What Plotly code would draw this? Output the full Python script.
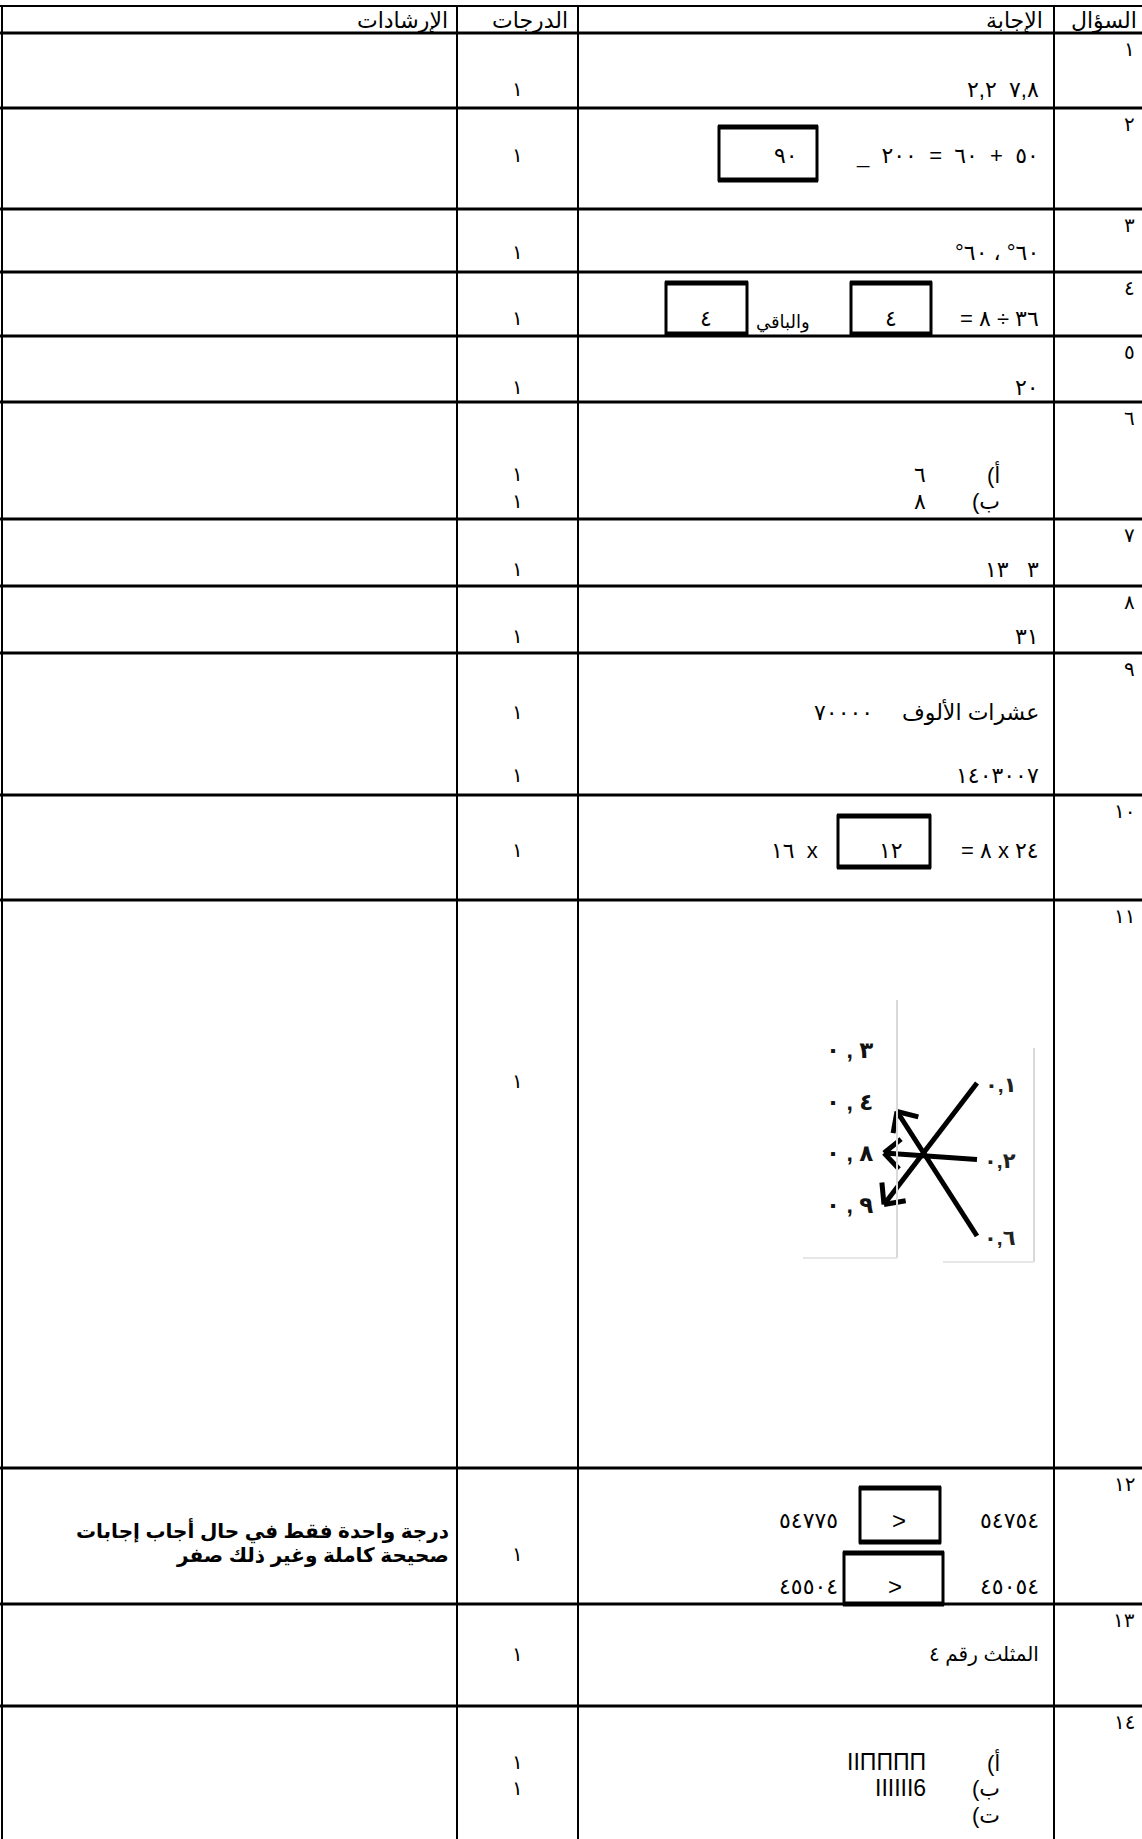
import math
import plotly.graph_objects as go

W, H = 1142, 1839
FONT = "Liberation Sans, DejaVu Sans, sans-serif"
LRM = "\u200e"

# ---------------- table content ----------------
headers = ["السؤال", "الإجابة", "الدرجات", "الإرشادات"]
question_numbers = ["١", "٢", "٣", "٤", "٥", "٦", "٧", "٨", "٩", "١٠", "١١", "١٢", "١٣", "١٤"]
grades = [["١"], ["١"], ["١"], ["١"], ["١"], ["١", "١"], ["١"], ["١"], ["١", "١"], ["١"], ["١"], ["١"], ["١"], ["١", "١"]]

q1_values = ["٢,٢", "٧,٨"]
q2_terms = ["_", "٢٠٠", "=", "٦٠", "+", "٥٠"]
q2_box = "٩٠"
q3_values = ["°٦٠", "،", "°٦٠"]
q4_terms = ["=", "٨", "÷", "٣٦"]
q4_quotient = "٤"
q4_remainder = "٤"
q4_word = "والباقي"
q5_value = "٢٠"
q6_labels = ["(أ", "(ب"]
q6_values = ["٦", "٨"]
q7_values = ["١٣", "٣"]
q8_value = "٣١"
q9_words = ["عشرات الألوف", "٧٠٠٠٠"]
q9_number = "١٤٠٣٠٠٧"
q10_left = ["١٦", "x"]
q10_box = "١٢"
q10_right = ["=", "٨", "x", "٢٤"]
q11_left = [["٠", ",", "٣"], ["٠", ",", "٤"], ["٠", ",", "٨"], ["٠", ",", "٩"]]
q11_right = ["٠,١", "٠,٢", "٠,٦"]
q11_match = [3, 2, 1]          # right item i -> left item index
q12_left = ["٥٤٧٧٥", "٤٥٥٠٤"]
q12_sign = [">", ">"]
q12_right = ["٥٤٧٥٤", "٤٥٠٥٤"]
q12_note = ["درجة واحدة فقط في حال أجاب إجابات", "صحيحة كاملة وغير ذلك صفر"]
q13_value = "المثلث رقم ٤"
q14_labels = ["(أ", "(ب", "(ت"]
q14_values = ["IIΠΠΠΠ", "IIIIII6", ""]

# ---------------- layout constants (pixels) ----------------
row_edges = [6, 33, 108, 209, 272, 336, 402, 519, 586, 653, 795, 900, 1468, 1604, 1706]
col_edges = [2, 457, 578, 1054]
GRADE_X = 517
ANS_X = 1041
QNUM_X = 1137
FS = 22

fig = go.Figure()
shapes, annotations = [], []


def hline(y, w=3):
    shapes.append(dict(type="line", xref="x", yref="y", x0=0, x1=W, y0=y, y1=y,
                       line=dict(color="black", width=w)))


def vline(x, w=2):
    shapes.append(dict(type="line", xref="x", yref="y", x0=x, x1=x, y0=row_edges[0], y1=H + 5,
                       line=dict(color="black", width=w)))


def box(x0, x1, y0, y1):
    shapes.append(dict(type="rect", xref="x", yref="y", x0=x0, x1=x1, y0=y0, y1=y1,
                       line=dict(color="black", width=3)))
    for yy in (y0, y1):
        shapes.append(dict(type="line", xref="x", yref="y", x0=x0 - 1, x1=x1 + 1, y0=yy, y1=yy,
                           line=dict(color="black", width=5)))


def text(x, y, s, anchor="right", size=FS, color="black", bold=False):
    if bold:
        s = "<b>" + s + "</b>"
    annotations.append(dict(x=x, y=y, xref="x", yref="y", text=s, showarrow=False,
                            xanchor=anchor, yanchor="middle",
                            font=dict(size=size, color=color, family=FONT)))


def ltr(tokens, gap=" "):
    return LRM + (LRM + gap + LRM).join(tokens) + LRM


# grid
hline(row_edges[0], 2)
for y in row_edges[1:]:
    hline(y, 3)
for x in col_edges:
    vline(x, 2)

# header
text(1139, 20, headers[0])
text(1045, 20, headers[1])
text(570, 20, headers[2])
text(450, 20, headers[3])

# question numbers
for i, q in enumerate(question_numbers):
    text(QNUM_X, row_edges[i + 1] + 16, q, size=20)

# grade rows (y positions for each grade)
grade_y = [[89], [155], [252], [318], [387], [474, 501], [569], [636], [712, 775], [850],
           [1081], [1554], [1654], [1762, 1788]]
for g, ys in zip(grades, grade_y):
    for v, y in zip(g, ys):
        text(GRADE_X, y, v, anchor="center", size=20)

# Q1
text(ANS_X, 89, ltr(q1_values, "  "))
# Q2
text(ANS_X, 155, ltr(q2_terms, "  "))
box(719, 817, 127, 180)
text(800, 155, q2_box)
# Q3
text(ANS_X, 252, ltr(q3_values, " "))
# Q4
text(ANS_X, 318, ltr(q4_terms, " "))
box(851, 931, 283, 334)
text(891, 318, q4_quotient, anchor="center")
text(812, 322, q4_word, size=18)
box(666, 747, 283, 334)
text(706, 318, q4_remainder, anchor="center")
# Q5
text(ANS_X, 387, q5_value)
# Q6
for lab, val, y in zip(q6_labels, q6_values, grade_y[5]):
    text(1002, y, lab)
    text(928, y, val)
# Q7
text(ANS_X, 569, ltr(q7_values, "   "))
# Q8
text(ANS_X, 636, q8_value)
# Q9
text(ANS_X, 712, q9_words[0])
text(875, 712, q9_words[1])
text(ANS_X, 775, q9_number)
# Q10
text(ANS_X, 850, ltr(q10_right, " "))
box(838, 930, 816, 867)
text(905, 850, q10_box)
text(820, 850, ltr(q10_left, "  "))

# Q11 picture
LX, LY0, LDY = 849, 1050, 51.5
RX, RY0, RDY = 1000, 1084, 76.5
shapes.append(dict(type="line", xref="x", yref="y", x0=897, x1=897, y0=1000, y1=1258,
                   line=dict(color="#d9d9d9", width=2)))
shapes.append(dict(type="line", xref="x", yref="y", x0=803, x1=897, y0=1258, y1=1258,
                   line=dict(color="#e6e6e6", width=2)))
shapes.append(dict(type="line", xref="x", yref="y", x0=1034, x1=1034, y0=1048, y1=1262,
                   line=dict(color="#d9d9d9", width=2)))
shapes.append(dict(type="line", xref="x", yref="y", x0=943, x1=1034, y0=1262, y1=1262,
                   line=dict(color="#e6e6e6", width=2)))
for j, toks in enumerate(q11_left):
    text(LX, LY0 + LDY * j, ltr(toks, " "), anchor="center", size=23, color="#111", bold=True)
for i, lab in enumerate(q11_right):
    text(RX, RY0 + RDY * i, lab, anchor="center", size=21, color="#222", bold=True)
ax, ay = [], []
for i, j in enumerate(q11_match):
    tx, ty = 977, RY0 + RDY * i - 1
    hx, hy = (897, LY0 + LDY * j + 10) if j == 1 else (884, LY0 + LDY * j)
    ang = math.atan2(ty - hy, tx - hx)
    ax += [tx, hx, None]
    ay += [ty, hy, None]
    for d in (0.75, -0.75):
        ax += [hx + 22 * math.cos(ang + d), hx, None]
        ay += [hy + 22 * math.sin(ang + d), hy, None]
fig.add_trace(go.Scatter(x=ax, y=ay, mode="lines", line=dict(color="black", width=5),
                         hoverinfo="skip", showlegend=False))

# Q12
for k, (lv, sg, rv, y) in enumerate(zip(q12_left, q12_sign, q12_right, [1520, 1586])):
    text(ANS_X, y, rv)
    text(840, y, lv)
    if k == 0:
        box(860, 940, 1488, 1542)
    else:
        box(844, 943, 1553, 1604)
    text(899 if k == 0 else 895, y, sg, anchor="center", size=24)
for s, y in zip(q12_note, [1530, 1555]):
    text(451, y, s, size=20, bold=True)
# Q13
text(ANS_X, 1654, q13_value, size=20)
# Q14
for lab, val, y in zip(q14_labels, q14_values, [1762, 1788, 1815]):
    text(1002, y, lab)
    if val:
        text(928, y, val, size=23)

fig.update_layout(
    width=W, height=H, margin=dict(l=0, r=0, t=0, b=0),
    paper_bgcolor="white", plot_bgcolor="white",
    xaxis=dict(range=[0, W], visible=False, fixedrange=True),
    yaxis=dict(range=[H, 0], visible=False, fixedrange=True),
    shapes=shapes, annotations=annotations, showlegend=False,
)
fig.write_html("out.html", config={"displayModeBar": False, "staticPlot": True},
               post_script="document.body.style.margin='0';document.body.style.overflow='hidden';")
